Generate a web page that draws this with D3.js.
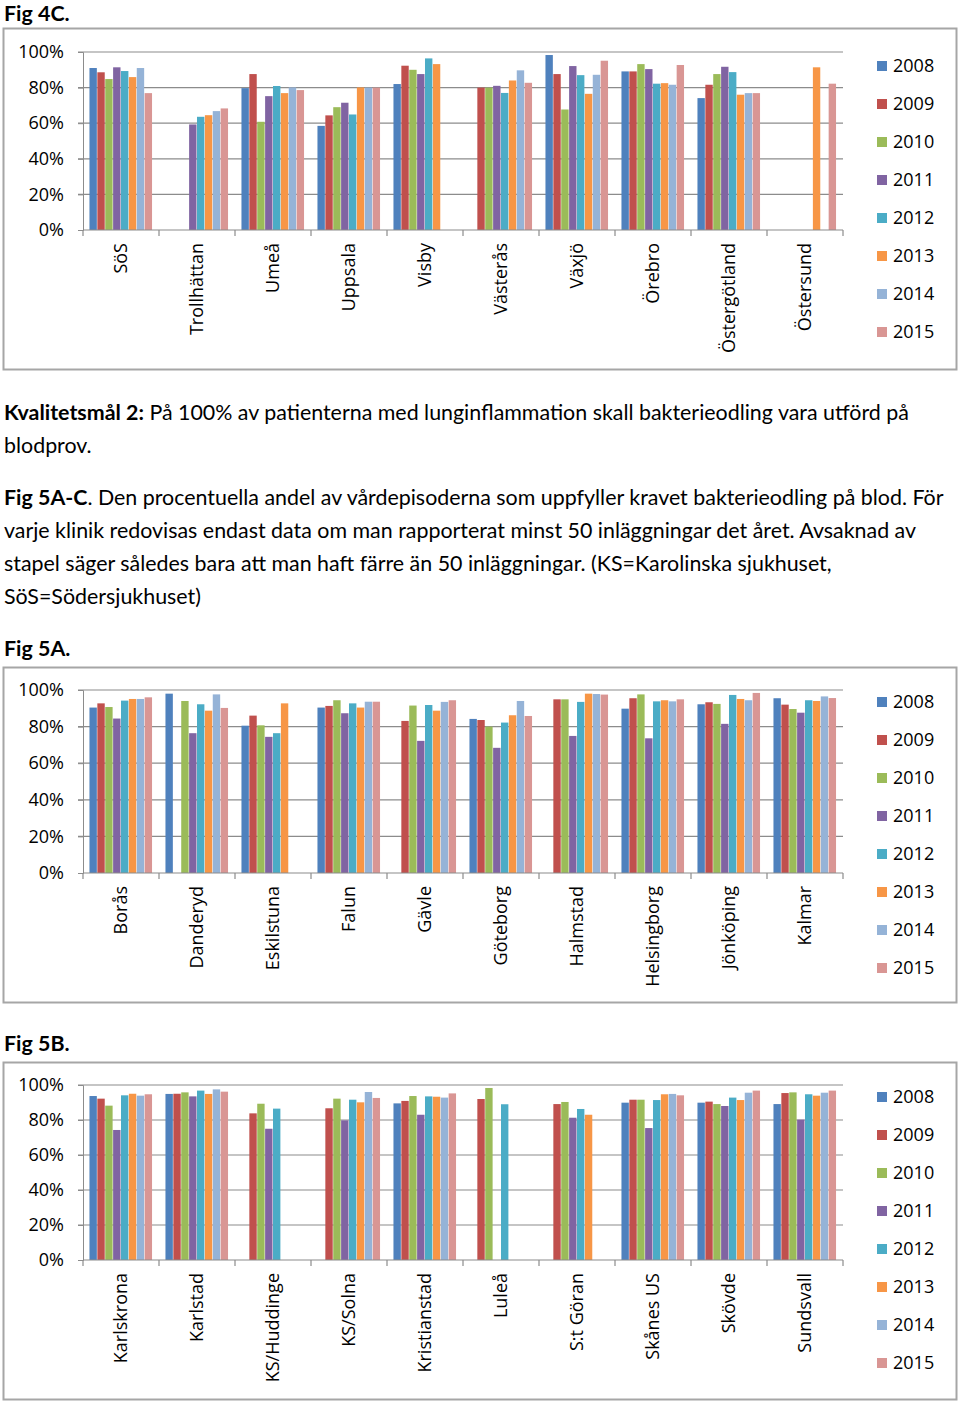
<!DOCTYPE html>
<html>
<head>
<meta charset="utf-8">
<script src="https://cdn.jsdelivr.net/npm/d3@7"></script>
<style>
  body { margin: 0; background: #fff; }
  svg { display: block; }
</style>
</head>
<body>
<div id="page"></div>
<script>
const years = ['2008', '2009', '2010', '2011', '2012', '2013', '2014', '2015'];
const colors = ['#4F81BD', '#C0504D', '#9BBB59', '#8064A2', '#4BACC6', '#F79646', '#95B3D7', '#D99694'];
const yTicks = [0, 0.2, 0.4, 0.6, 0.8, 1];

// Fig 4C
const fig4cCategories = ['SöS', 'Trollhättan', 'Umeå', 'Uppsala', 'Visby', 'Västerås', 'Växjö', 'Örebro', 'Östergötland', 'Östersund'];
const fig4cValues = [
  [91, 88.6, 84.8, 91.4, 89.3, 85.9, 91, 76.9],
  [null, null, null, 59.3, 63.6, 64.5, 66.8, 68.3],
  [79.7, 87.6, 60.8, 75.2, 80.9, 76.9, 80.1, 78.6],
  [58.5, 64.4, 69, 71.5, 64.9, 80.1, 80, 80],
  [82, 92.3, 90, 87.6, 96.4, 93.2, null, null],
  [null, 80, 80, 81, 77, 84, 89.7, 82.7],
  [98.3, 87.6, 67.7, 92.1, 87, 76.5, 87.2, 95.1],
  [89.1, 89.1, 93.2, 90.4, 82.2, 82.5, 81.6, 92.7],
  [74.1, 81.6, 87.6, 91.7, 88.7, 76, 76.9, 76.9],
  [null, null, null, null, null, 91.4, null, 82.2]
];

// Fig 5A
const fig5aCategories = ['Borås', 'Danderyd', 'Eskilstuna', 'Falun', 'Gävle', 'Göteborg', 'Halmstad', 'Helsingborg', 'Jönköping', 'Kalmar'];
const fig5aValues = [
  [90.4, 92.7, 90.7, 84.4, 94.2, 95.1, 95.1, 96],
  [98, null, 94, 76.4, 92.2, 88.7, 97.6, 90.2],
  [80.5, 86, 80.7, 74.4, 76.4, 92.7, null, null],
  [90.4, 91.3, 94.4, 87.3, 92.7, 90.4, 93.6, 93.6],
  [null, 83.1, 91.5, 72.2, 91.8, 88.7, 93.5, 94.4],
  [84.2, 83.6, 80, 68.4, 82.2, 86.2, 94, 85.8],
  [null, 94.9, 94.9, 74.9, 93.5, 98, 97.8, 97.5],
  [89.8, 95.5, 97.6, 73.6, 93.8, 94.4, 93.8, 94.9],
  [92.2, 93.3, 92.4, 81.5, 97.3, 95.1, 94.4, 98.4],
  [95.5, 92, 89.6, 87.6, 94.4, 94, 96.5, 95.6]
];

// Fig 5B
const fig5bCategories = ['Karlskrona', 'Karlstad', 'KS/Huddinge', 'KS/Solna', 'Kristianstad', 'Luleå', 'S:t Göran', 'Skånes US', 'Skövde', 'Sundsvall'];
const fig5bValues = [
  [93.7, 92.2, 88.2, 74.3, 94.1, 95, 93.9, 94.7],
  [94.9, 95, 95.8, 93.5, 96.8, 94.9, 97.5, 96.2],
  [null, 83.8, 89.3, 75, 86.5, null, null, null],
  [null, 86.7, 92.2, 79.8, 91.6, 90.1, 96, 92.6],
  [89.5, 90.9, 93.7, 83, 93.5, 93.3, 92.8, 95.2],
  [null, 92, 98.3, null, 89, null, null, null],
  [null, 89.1, 90.3, 81.3, 86.3, 83, null, null],
  [89.9, 91.6, 91.6, 75.4, 91.4, 94.7, 94.9, 94.1],
  [89.9, 90.5, 89.1, 88, 92.8, 91.4, 95.6, 96.8],
  [89.1, 95.4, 95.8, 80.2, 94.7, 93.9, 95.6, 96.8]
];

const W = 960, H = 1404;
const chartFont = "'Open Sans', sans-serif";
const bodyFont = "Lato, 'Open Sans', sans-serif";

const svg = d3.select('#page').append('svg')
  .attr('width', W).attr('height', H);

const drawChart = (categories, values, box) => {
  const g = svg.append('g');

  g.append('rect')
    .attr('x', 3.5).attr('y', box.top + 0.5)
    .attr('width', 953).attr('height', box.bottom - box.top)
    .attr('fill', 'none')
    .attr('stroke', '#a6a6a6')
    .attr('stroke-width', 2);

  const x0 = d3.scaleBand().domain(categories).range([83, 843])
    .paddingInner(0.17).paddingOuter(0.085);
  const x1 = d3.scaleBand().domain(years).range([0, x0.bandwidth()]);
  const y = d3.scaleLinear().domain([0, 1]).range([box.plotBottom, box.plotTop]);

  // gridlines
  g.append('g').selectAll('line').data(yTicks.slice(1)).join('line')
    .attr('x1', 78).attr('x2', 843)
    .attr('y1', d => y(d)).attr('y2', d => y(d))
    .attr('stroke', '#8c8c8c').attr('stroke-width', 1.2);

  // y axis
  const yAxis = g.append('g').attr('transform', 'translate(83,0)')
    .call(d3.axisLeft(y).tickValues(yTicks).tickFormat(d3.format('.0%')).tickSize(5).tickPadding(14));
  yAxis.select('.domain').attr('stroke', '#8c8c8c');
  yAxis.selectAll('.tick line').attr('stroke', '#8c8c8c');
  yAxis.selectAll('text').attr('font-family', chartFont).attr('font-size', 18).attr('fill', '#000');

  // bars
  const groups = g.append('g').selectAll('g').data(categories).join('g')
    .attr('transform', d => `translate(${x0(d)},0)`);
  groups.selectAll('rect')
    .data((d, i) => values[i].map((v, j) => ({ year: years[j], v, c: colors[j] })).filter(e => e.v !== null))
    .join('rect')
    .attr('x', e => x1(e.year))
    .attr('width', x1.bandwidth() - 0.5)
    .attr('y', e => y(e.v / 100))
    .attr('height', e => y(0) - y(e.v / 100))
    .attr('fill', e => e.c);

  // x axis line + category boundary ticks
  g.append('line')
    .attr('x1', 83).attr('x2', 843)
    .attr('y1', y(0)).attr('y2', y(0))
    .attr('stroke', '#8c8c8c').attr('stroke-width', 1.2);
  const bounds = d3.range(categories.length + 1).map(i => 83 + i * x0.step());
  g.append('g').selectAll('line').data(bounds).join('line')
    .attr('x1', d => d).attr('x2', d => d)
    .attr('y1', y(0)).attr('y2', y(0) + 6)
    .attr('stroke', '#8c8c8c').attr('stroke-width', 1.2);

  // category labels
  g.append('g').selectAll('text').data(categories).join('text')
    .attr('transform', d => `translate(${x0(d) + x0.bandwidth() / 2},${y(0) + 13}) rotate(-90)`)
    .attr('text-anchor', 'end')
    .attr('dy', '0.35em')
    .attr('font-family', chartFont).attr('font-size', 18)
    .text(d => d);

  // legend
  const leg = g.append('g').selectAll('g').data(years).join('g')
    .attr('transform', (d, i) => `translate(877,${box.legendY + i * 38})`);
  leg.append('rect').attr('x', 0).attr('y', -5).attr('width', 10).attr('height', 10)
    .attr('fill', (d, i) => colors[i]);
  leg.append('text').attr('x', 16).attr('dy', '0.35em')
    .attr('font-family', chartFont).attr('font-size', 18)
    .text(d => d);
};

drawChart(fig4cCategories, fig4cValues, { top: 28, bottom: 369, plotTop: 52, plotBottom: 230, legendY: 66 });
drawChart(fig5aCategories, fig5aValues, { top: 667, bottom: 1002, plotTop: 690, plotBottom: 873, legendY: 702 });
drawChart(fig5bCategories, fig5bValues, { top: 1062, bottom: 1399, plotTop: 1085, plotBottom: 1260, legendY: 1097 });

// body text
const lines = [
  { y: 21, parts: [['Fig 4C.', true]] },
  { y: 420, parts: [['Kvalitetsmål 2:', true], [' På 100% av patienterna med lunginflammation skall bakterieodling vara utförd på', false]] },
  { y: 453, parts: [['blodprov.', false]] },
  { y: 505, parts: [['Fig 5A-C', true], ['. Den procentuella andel av vårdepisoderna som uppfyller kravet bakterieodling på blod. För', false]] },
  { y: 538, parts: [['varje klinik redovisas endast data om man rapporterat minst 50 inläggningar det året. Avsaknad av', false]] },
  { y: 571, parts: [['stapel säger således bara att man haft färre än 50 inläggningar. (KS=Karolinska sjukhuset,', false]] },
  { y: 604, parts: [['SöS=Södersjukhuset)', false]] },
  { y: 656, parts: [['Fig 5A.', true]] },
  { y: 1051, parts: [['Fig 5B.', true]] }
];
const tx = svg.append('g').selectAll('text').data(lines).join('text')
  .attr('x', 4).attr('y', d => d.y)
  .attr('font-family', bodyFont).attr('font-size', 21.4).attr('fill', '#000');
tx.selectAll('tspan').data(d => d.parts).join('tspan')
  .attr('font-weight', p => p[1] ? 'bold' : 'normal')
  .text(p => p[0]);
</script>
</body>
</html>
